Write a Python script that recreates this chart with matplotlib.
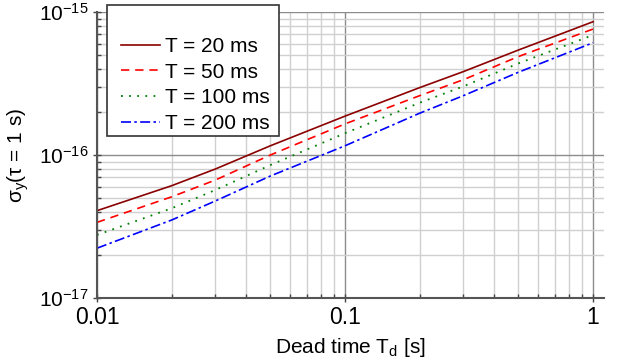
import numpy as np
import matplotlib
matplotlib.use('Agg')
from matplotlib import pyplot as plt
from matplotlib.ticker import LogLocator, NullFormatter
from matplotlib.patches import Rectangle

plt.rcParams['font.family'] = ['Liberation Sans', 'DejaVu Sans']
plt.rcParams['mathtext.fontset'] = 'custom'
plt.rcParams['mathtext.rm'] = 'Liberation Sans'
plt.rcParams['mathtext.it'] = 'Liberation Sans'

# dead time [s]
td = [0.01, 0.02, 0.03, 0.05, 0.1, 0.2, 0.3, 0.5, 1.0]

# sigma_y(tau = 1 s)
sig_20 = [4.08e-17, 6.1e-17, 7.98e-17, 1.16e-16, 1.87e-16, 2.96e-16, 3.83e-16, 5.42e-16, 8.55e-16]
sig_50 = [3.38e-17, 5.1e-17, 6.68e-17, 1.0e-16, 1.65e-16, 2.6e-16, 3.36e-16, 4.88e-16, 7.6e-16]
sig_100 = [2.76e-17, 4.24e-17, 5.69e-17, 8.5e-17, 1.42e-16, 2.32e-16, 3.02e-16, 4.37e-16, 6.9e-16]
sig_200 = [2.23e-17, 3.51e-17, 4.77e-17, 7.13e-17, 1.16e-16, 1.96e-16, 2.6e-16, 3.79e-16, 6.1e-16]

labels = ['T = 20 ms', 'T = 50 ms', 'T = 100 ms', 'T = 200 ms']
yticks = [1e-17, 1e-16, 1e-15]
xticks = [0.01, 0.1, 1]
xticklabels = ['0.01', '0.1', '1']

W, H = 618, 364
fig = plt.figure(figsize=(W/100, H/100), dpi=100)
ax = fig.add_axes([97/W, 1 - 298/H, 507/W, 286/H])

ax.plot(td, sig_20, color='#8b0000', lw=1.2, ls='-', label=labels[0])
ax.plot(td, sig_50, color='#ff0000', lw=1.2, ls=(0, (5, 3.5)), label=labels[1])
ax.plot(td, sig_100, color='#008000', lw=1.3, ls=(0, (1, 3.5)), label=labels[2])
ax.plot(td, sig_200, color='#0000ff', lw=1.2, ls=(0, (6, 2, 1.5, 2)), label=labels[3])

ax.set_xscale('log')
ax.set_yscale('log')
ax.set_xlim(0.01, 1.107)
ax.set_ylim(1e-17, 1e-15)

ax.set_xticks(xticks)
ax.set_xticklabels(xticklabels)
ax.set_yticks(yticks)
ax.xaxis.set_minor_locator(LogLocator(base=10, subs=np.arange(2, 10)))
ax.xaxis.set_minor_formatter(NullFormatter())
ax.yaxis.set_minor_locator(LogLocator(base=10, subs=np.arange(2, 10)))
ax.yaxis.set_minor_formatter(NullFormatter())

ax.grid(True, which='major', color='#8c8c8c', lw=1.0)
ax.grid(True, which='minor', color='#d0d0d0', lw=1.0)
ax.set_axisbelow(True)

for s in ['top', 'right']:
    ax.spines[s].set_visible(False)
for s in ['left', 'bottom']:
    ax.spines[s].set_color('#555555')
    ax.spines[s].set_linewidth(1.5)

ax.tick_params(which='major', direction='inout', length=6, width=1, color='#444444',
               labelsize=15, pad=3)
ax.tick_params(axis='x', which='major', labelsize=16.5)
ax.tick_params(which='minor', direction='in', length=3, width=1, color='#444444')

ax.set_xlabel('Dead time T$_\\mathrm{d}$ [s]', fontsize=15, labelpad=5)
ax.set_ylabel('σ$_\\mathrm{y}$(τ = 1 s)', fontsize=15, labelpad=6)

# legend frame drawn by hand, entries placed without their own frame
frame = Rectangle((107/W, 1 - 136/H), 172/W, 131/H, transform=fig.transFigure,
                  facecolor='white', edgecolor='#333333', lw=1.2, zorder=5,
                  clip_on=False)
ax.add_patch(frame)
leg = ax.legend(loc='upper left', bbox_to_anchor=(121/W, 1 - 37/H),
                bbox_transform=fig.transFigure, fontsize=15, frameon=False,
                handlelength=1.85, handletextpad=0.25, labelspacing=0.32,
                borderpad=0, borderaxespad=0)
leg.set_zorder(6)

plt.savefig('out.png', dpi=100)
